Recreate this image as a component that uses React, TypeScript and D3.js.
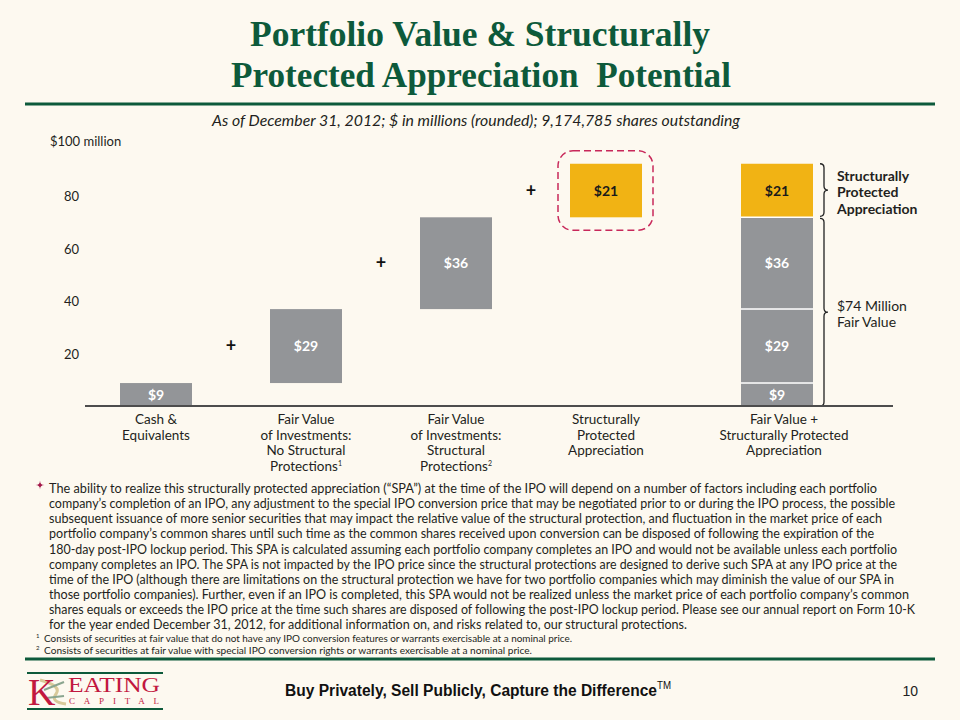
import React from "react";
import * as d3 from "d3";

// ---------- data ----------
const categories = [
  "Cash & Equivalents",
  "FV No Structural",
  "FV Structural",
  "SPA",
  "Total",
];
const categoryLines: string[][] = [
  ["Cash &", "Equivalents"],
  ["Fair Value", "of Investments:", "No Structural", "Protections"],
  ["Fair Value", "of Investments:", "Structural", "Protections"],
  ["Structurally", "Protected", "Appreciation"],
  ["Fair Value +", "Structurally Protected", "Appreciation"],
];
const categoryNotes = ["", "1", "2", "", ""];
const values = [9, 29, 36, 21];
const valueKinds = ["fv", "fv", "fv", "spa"];
const yTicks = [20, 40, 60, 80];
const yTopLabel = "$100 million";
const braceSpaLines = ["Structurally", "Protected", "Appreciation"];
const braceFvLines = ["$74 Million", "Fair Value"];

const titleLines = ["Portfolio Value & Structurally", "Protected Appreciation\u00a0\u00a0Potential"];
const subtitle =
  "As of December 31, 2012; $ in millions (rounded); 9,174,785 shares outstanding";
const paragraphLines = [
  "The ability to realize this structurally protected appreciation (\u201cSPA\u201d) at the time of the IPO will depend on a number of factors including each portfolio",
  "company\u2019s completion of an IPO, any adjustment to the special IPO conversion price that may be negotiated prior to or during the IPO process, the possible",
  "subsequent issuance of more senior securities that may impact the relative value of the structural protection, and fluctuation in the market price of each",
  "portfolio company\u2019s common shares until such time as the common shares received upon conversion can be disposed of following the expiration of the",
  "180-day post-IPO lockup period. This SPA is calculated assuming each portfolio company completes an IPO and would not be available unless each portfolio",
  "company completes an IPO. The SPA is not impacted by the IPO price since the structural protections are designed to derive such SPA at any IPO price at the",
  "time of the IPO (although there are limitations on the structural protection we have for two portfolio companies which may diminish the value of our SPA in",
  "those portfolio companies). Further, even if an IPO is completed, this SPA would not be realized unless the market price of each portfolio company\u2019s common",
  "shares equals or exceeds the IPO price at the time such shares are disposed of following the post-IPO lockup period. Please see our annual report on Form 10-K",
  "for the year ended December 31, 2012, for additional information on, and risks related to, our structural protections.",
];
const paragraphWidths = [828, 846, 833, 825, 848, 848, 845, 860, 866, 638];
const footnotes = [
  { mark: "1", text: "Consists of securities at fair value that do not have any IPO conversion features or warrants exercisable at a nominal price.", w: 528 },
  { mark: "2", text: "Consists of securities at fair value with special IPO conversion rights or warrants exercisable at a nominal price.", w: 488 },
];
const tagline = "Buy Privately, Sell Publicly, Capture the Difference";
const taglineMark = "TM";
const pageNumber = "10";

// ---------- style ----------
const BG = "#fdf9f0";
const GREEN = "#0d5a3b";
const GRAY = "#939598";
const YELLOW = "#f1b314";
const CRIMSON = "#c8285a";
const TEXT = "#231f20";
const SANS = "Lato, 'Open Sans', sans-serif";

export default function App() {
  const W = 960;
  const H = 720;

  const x = d3
    .scaleBand<string>()
    .domain(categories)
    .range([81, 831])
    .paddingInner(0.52)
    .paddingOuter(0.26);
  const totalShift = 21;
  const y = d3.scaleLinear().domain([0, 100]).range([406, 151]);

  const bw = x.bandwidth();
  const xPos = (i: number) => (x(categories[i]) as number) + (i === categories.length - 1 ? totalShift : 0);

  // waterfall
  const starts: number[] = [];
  values.reduce((acc, v, i) => {
    starts[i] = acc;
    return acc + v;
  }, 0);
  const total = d3.sum(values);
  const fvTotal = d3.sum(values.filter((_, i) => valueKinds[i] === "fv"));
  const colorOf = (k: string) => (k === "spa" ? YELLOW : GRAY);
  const labelColorOf = (k: string) => (k === "spa" ? "#1a1a1a" : "#ffffff");

  const brace = (bx: number, y0: number, y1: number) => {
    const ym = (y0 + y1) / 2;
    const r = 4;
    const p = d3.path();
    p.moveTo(bx - r, y0);
    p.quadraticCurveTo(bx, y0, bx, y0 + r);
    p.lineTo(bx, ym - r);
    p.quadraticCurveTo(bx, ym, bx + r, ym);
    p.quadraticCurveTo(bx, ym, bx, ym + r);
    p.lineTo(bx, y1 - r);
    p.quadraticCurveTo(bx, y1, bx - r, y1);
    return p.toString();
  };

  const lastI = categories.length - 1;
  const tx = xPos(lastI);
  const braceX = tx + bw + 11;

  // 4-point star bullet
  const star = (cx: number, cy: number, s: number) =>
    `M${cx},${cy - s} Q${cx},${cy} ${cx + s},${cy} Q${cx},${cy} ${cx},${cy + s} Q${cx},${cy} ${cx - s},${cy} Q${cx},${cy} ${cx},${cy - s}Z`;

  return (
    <svg
      width={W}
      height={H}
      viewBox={`0 0 ${W} ${H}`}
      style={{ position: "fixed", left: 0, top: 0, display: "block" }}
    >
      <rect x={0} y={0} width={W} height={H} fill={BG} />

      {/* title */}
      {titleLines.map((t, i) => (
        <text
          key={i}
          x={i === 0 ? 250 : 231}
          y={46 + i * 41}
          textLength={i === 0 ? 460 : 500}
          lengthAdjust="spacingAndGlyphs"
          fontFamily="'Liberation Serif', 'Times New Roman', serif"
          fontWeight="bold"
          fontSize={35}
          fill={GREEN}
        >
          {t}
        </text>
      ))}
      <line x1={25} x2={935} y1={104} y2={104} stroke={GREEN} strokeWidth={3} />
      <text
        x={212}
        y={126}
        textLength={528}
        lengthAdjust="spacingAndGlyphs"
        fontFamily={SANS}
        fontStyle="italic"
        fontSize={14.5}
        fill={TEXT}
      >
        {subtitle}
      </text>

      {/* y axis labels */}
      <text x={50} y={y(100) - 5} fontFamily={SANS} fontSize={13} fill={TEXT}>
        {yTopLabel}
      </text>
      {yTicks.map((t) => (
        <text key={t} x={79} y={y(t) + 5 - t * 0.07} textAnchor="end" fontFamily={SANS} fontSize={13} fill={TEXT}>
          {t}
        </text>
      ))}

      {/* waterfall bars */}
      {values.map((v, i) => {
        const x0 = xPos(i);
        const top = y(starts[i] + v);
        const bot = y(starts[i]);
        const k = valueKinds[i];
        return (
          <g key={i}>
            <rect x={x0} y={top} width={bw} height={bot - top} fill={colorOf(k)} />
            <text
              x={x0 + bw / 2}
              y={(top + bot) / 2 + 5}
              textAnchor="middle"
              fontFamily={SANS}
              fontWeight="bold"
              fontSize={14}
              fill={labelColorOf(k)}
            >
              {`$${v}`}
            </text>
            {i > 0 && (
              <text
                x={(xPos(i - 1) + bw + x0) / 2}
                y={(top + bot) / 2 + 6}
                textAnchor="middle"
                fontFamily={SANS}
                fontWeight="bold"
                fontSize={18}
                fill="#111"
              >
                +
              </text>
            )}
            {k === "spa" && (
              <rect
                x={x0 - 12}
                y={top - 13}
                width={bw + 23}
                height={bot - top + 26}
                rx={15}
                ry={15}
                fill="none"
                stroke={CRIMSON}
                strokeWidth={1.5}
                strokeDasharray="7,4"
              />
            )}
          </g>
        );
      })}

      {/* total stacked bar */}
      {values.map((v, i) => {
        const top = y(starts[i] + v);
        const bot = y(starts[i]);
        const k = valueKinds[i];
        return (
          <g key={`t${i}`}>
            <rect x={tx} y={top} width={bw} height={bot - top} fill={colorOf(k)} />
            {i > 0 && <line x1={tx} x2={tx + bw} y1={bot} y2={bot} stroke="#ffffff" strokeWidth={1.5} />}
            <text
              x={tx + bw / 2}
              y={(top + bot) / 2 + 5}
              textAnchor="middle"
              fontFamily={SANS}
              fontWeight="bold"
              fontSize={14}
              fill={labelColorOf(k)}
            >
              {`$${v}`}
            </text>
          </g>
        );
      })}

      {/* braces */}
      <path d={brace(braceX, y(total), y(fvTotal) - 1)} fill="none" stroke="#222" strokeWidth={1.3} />
      <path d={brace(braceX, y(fvTotal) + 1, y(0))} fill="none" stroke="#222" strokeWidth={1.3} />
      {braceSpaLines.map((l, i) => (
        <text
          key={l}
          x={braceX + 13}
          y={(y(total) + y(fvTotal)) / 2 - 10 + i * 16.5}
          fontFamily={SANS}
          fontWeight="bold"
          fontSize={14}
          fill={TEXT}
        >
          {l}
        </text>
      ))}
      {braceFvLines.map((l, i) => (
        <text
          key={l}
          x={braceX + 13}
          y={(y(fvTotal) + y(0)) / 2 - 1 + i * 16.5}
          fontFamily={SANS}
          fontSize={14}
          fill={TEXT}
        >
          {l}
        </text>
      ))}

      {/* baseline */}
      <line x1={85} x2={893} y1={y(0)} y2={y(0)} stroke="#4d4d4d" strokeWidth={2} />

      {/* category labels */}
      {categoryLines.map((lines, i) => {
        const cx = xPos(i) + bw / 2 + (i === lastI ? 7 : 0);
        return (
          <g key={i}>
            {lines.map((l, j) => (
              <text
                key={j}
                x={cx}
                y={424 + j * 15.6}
                textAnchor="middle"
                fontFamily={SANS}
                fontSize={13.5}
                fill={TEXT}
              >
                {l}
                {j === lines.length - 1 && categoryNotes[i] && (
                  <tspan fontSize={7} dy={-5}>
                    {categoryNotes[i]}
                  </tspan>
                )}
              </text>
            ))}
          </g>
        );
      })}

      {/* paragraph */}
      <path d={star(40, 485, 4.5)} fill="#a3184a" />
      {paragraphLines.map((l, i) => (
        <text
          key={i}
          x={49}
          y={493 + i * 15.15}
          textLength={paragraphWidths[i]}
          lengthAdjust="spacingAndGlyphs"
          fontFamily={SANS}
          fontSize={13}
          fill={TEXT}
        >
          {l}
        </text>
      ))}
      {footnotes.map((f, i) => (
        <g key={i}>
          <text x={36} y={638 + i * 12} fontFamily={SANS} fontSize={6} fill={TEXT}>
            {f.mark}
          </text>
          <text
            x={44}
            y={642 + i * 12}
            textLength={f.w}
            lengthAdjust="spacingAndGlyphs"
            fontFamily={SANS}
            fontSize={9.5}
            fill={TEXT}
          >
            {f.text}
          </text>
        </g>
      ))}
      <line x1={25} x2={935} y1={659} y2={659} stroke={GREEN} strokeWidth={3} />

      {/* logo */}
      <g>
        <line x1={27} x2={163} y1={673} y2={673} stroke={GREEN} strokeWidth={2} />
        <line x1={27} x2={163} y1={709} y2={709} stroke={GREEN} strokeWidth={2} />
        <path d="M40,680 Q62,686 56,694 Q50,702 66,704" fill="none" stroke="#d9c99a" strokeWidth={3} />
        <path d="M44,690 L64,682" stroke="#8aa58f" strokeWidth={2} />
        <path d="M46,698 L64,696" stroke="#8aa58f" strokeWidth={2} />
        <text
          x={28}
          y={705}
          fontFamily="'Liberation Serif', serif"
          fontSize={38}
          fill="#c2183f"
        >
          K
        </text>
        <text
          x={68}
          y={692}
          textLength={92}
          lengthAdjust="spacingAndGlyphs"
          fontFamily="'Liberation Serif', serif"
          fontSize={21}
          fill="#c2183f"
        >
          EATING
        </text>
        <text
          x={69}
          y={704}
          textLength={90}
          lengthAdjust="spacing"
          fontFamily="'Liberation Serif', serif"
          fontSize={9}
          fill="#c2183f"
        >
          CAPITAL
        </text>
      </g>

      {/* footer */}
      <text
        x={285}
        y={696}
        textLength={386}
        lengthAdjust="spacingAndGlyphs"
        fontFamily="'Liberation Sans', Arial, sans-serif"
        fontWeight="bold"
        fontSize={16}
        fill="#111"
      >
        {tagline}
        <tspan fontSize={10} fontWeight="normal" dy={-7}>
          {taglineMark}
        </tspan>
      </text>
      <text
        x={918}
        y={696}
        textAnchor="end"
        fontFamily="'Liberation Sans', Arial, sans-serif"
        fontSize={14}
        fill="#222"
      >
        {pageNumber}
      </text>
    </svg>
  );
}
